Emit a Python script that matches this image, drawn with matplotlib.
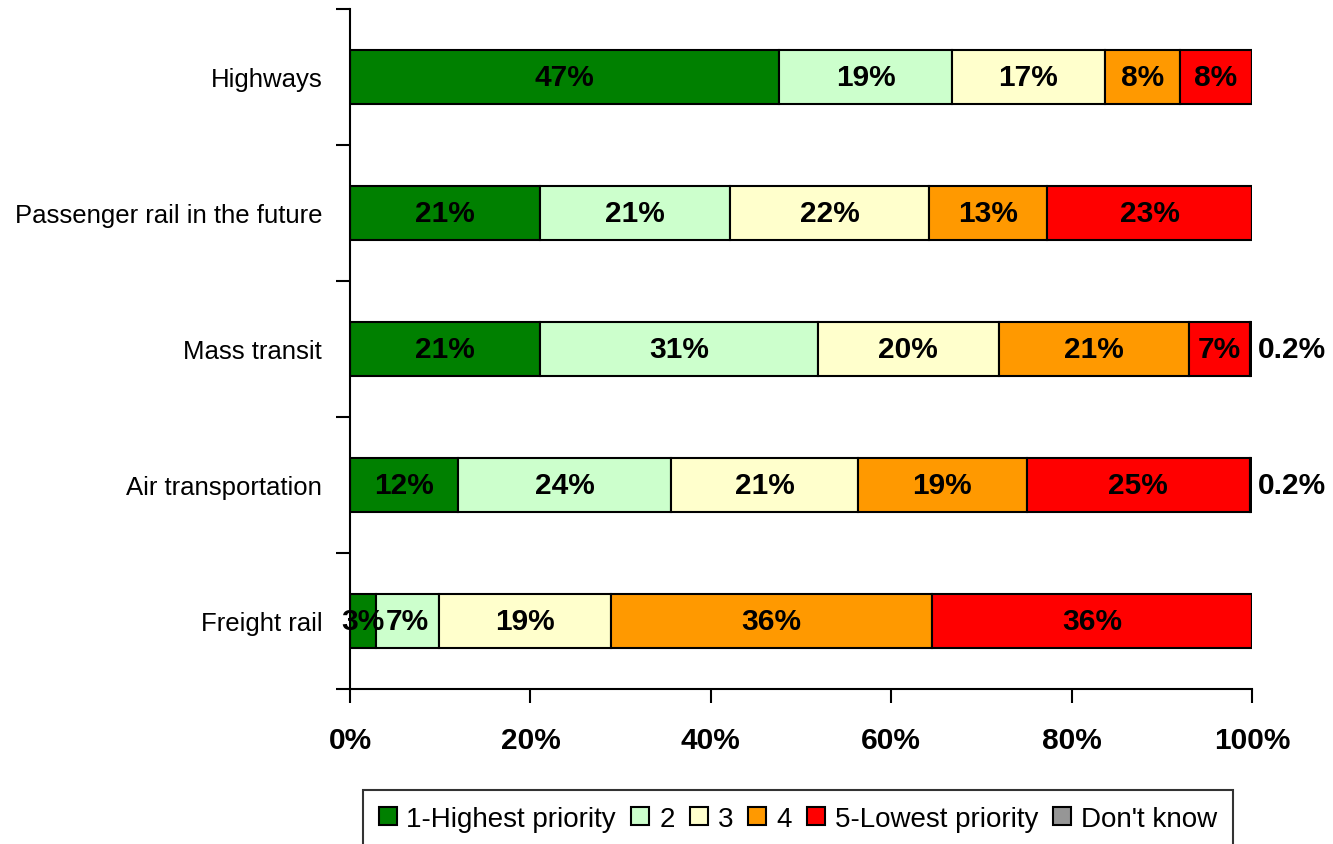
import numpy as np
import matplotlib.pyplot as plt

plt.rcParams['font.family'] = ['Liberation Sans', 'DejaVu Sans']

categories = ["Highways", "Passenger rail in the future", "Mass transit",
              "Air transportation", "Freight rail"]
series_names = ["1-Highest priority", "2", "3", "4", "5-Lowest priority", "Don't know"]
values = [
    [47.6, 19.1, 17.0, 8.3, 8.0, 0.0],
    [21.1, 21.0, 22.1, 13.1, 22.7, 0.0],
    [21.1, 30.8, 20.0, 21.1, 6.8, 0.2],
    [12.0, 23.6, 20.7, 18.7, 24.8, 0.2],
    [2.9, 7.0, 19.0, 35.6, 35.5, 0.0],
]
labels = [
    ["47%", "19%", "17%", "8%", "8%", ""],
    ["21%", "21%", "22%", "13%", "23%", ""],
    ["21%", "31%", "20%", "21%", "7%", "0.2%"],
    ["12%", "24%", "21%", "19%", "25%", "0.2%"],
    ["3%", "7%", "19%", "36%", "36%", ""],
]
colors = ["#008000", "#CCFFCC", "#FFFFCC", "#FF9900", "#FF0000", "#969696"]

fig = plt.figure(figsize=(13.33, 8.45), dpi=100)
ax = fig.add_axes([350 / 1333, 1 - 690 / 845, 902 / 1333, 680 / 845])

vals = np.array(values)
y = np.arange(len(categories))
left = np.zeros(len(categories))
for j, name in enumerate(series_names):
    ax.barh(y, vals[:, j], left=left, height=0.4, color=colors[j],
            edgecolor="black", linewidth=1.5, label=name)
    for i in range(len(categories)):
        txt = labels[i][j]
        if not txt:
            continue
        if j == len(series_names) - 1:
            ax.text(100.6, y[i], txt, ha="left", va="center",
                    fontsize=21.5, fontweight="bold")
        else:
            ax.text(left[i] + vals[i, j] / 2, y[i], txt, ha="center", va="center",
                    fontsize=21.5, fontweight="bold")
    left += vals[:, j]

ax.set_xlim(0, 100)
ax.set_ylim(len(categories) - 0.5, -0.5)
ax.set_xticks(np.arange(0, 101, 20))
ax.set_xticklabels([f"{v}%" for v in range(0, 101, 20)], fontsize=21.5, fontweight="bold")
ax.set_yticks(y)
ax.set_yticklabels(categories, fontsize=18.5)
ax.tick_params(axis="y", length=0, pad=20)
ax.set_yticks(np.arange(-0.5, len(categories)), minor=True)
ax.tick_params(axis="y", which="minor", length=10, width=1.5)
ax.tick_params(axis="x", length=10, width=1.5, pad=17)
for s in ["top", "right"]:
    ax.spines[s].set_visible(False)
for s in ["left", "bottom"]:
    ax.spines[s].set_linewidth(1.5)

leg = fig.legend(loc="lower center", bbox_to_anchor=(798 / 1333, -0.02), ncol=6,
                 fontsize=20, frameon=True, fancybox=False, edgecolor="black",
                 handlelength=0.65, handleheight=0.65, handletextpad=0.35,
                 columnspacing=0.55, borderpad=0.55)
leg.get_frame().set_linewidth(1.5)

fig.savefig("out.png", dpi=100)
